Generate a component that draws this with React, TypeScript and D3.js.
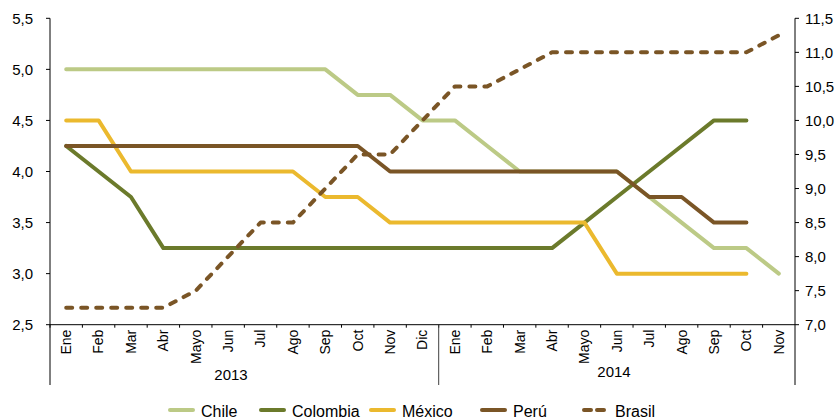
import React from "react";
import * as d3 from "d3";

const months2013 = ["Ene", "Feb", "Mar", "Abr", "Mayo", "Jun", "Jul", "Ago", "Sep", "Oct", "Nov", "Dic"];
const months2014 = ["Ene", "Feb", "Mar", "Abr", "Mayo", "Jun", "Jul", "Ago", "Sep", "Oct", "Nov"];
const years = ["2013", "2014"];

const chile = [5.0, 5.0, 5.0, 5.0, 5.0, 5.0, 5.0, 5.0, 5.0, 4.75, 4.75, 4.5, 4.5, 4.25, 4.0, 4.0, 4.0, 4.0, 3.75, 3.5, 3.25, 3.25, 3.0];
const colombia = [4.25, 4.0, 3.75, 3.25, 3.25, 3.25, 3.25, 3.25, 3.25, 3.25, 3.25, 3.25, 3.25, 3.25, 3.25, 3.25, 3.5, 3.75, 4.0, 4.25, 4.5, 4.5, null];
const mexico = [4.5, 4.5, 4.0, 4.0, 4.0, 4.0, 4.0, 4.0, 3.75, 3.75, 3.5, 3.5, 3.5, 3.5, 3.5, 3.5, 3.5, 3.0, 3.0, 3.0, 3.0, 3.0, null];
const peru = [4.25, 4.25, 4.25, 4.25, 4.25, 4.25, 4.25, 4.25, 4.25, 4.25, 4.0, 4.0, 4.0, 4.0, 4.0, 4.0, 4.0, 4.0, 3.75, 3.75, 3.5, 3.5, null];
const brasil = [7.25, 7.25, 7.25, 7.25, 7.5, 8.0, 8.5, 8.5, 9.0, 9.5, 9.5, 10.0, 10.5, 10.5, 10.75, 11.0, 11.0, 11.0, 11.0, 11.0, 11.0, 11.0, 11.25];

const leftTicks = [2.5, 3.0, 3.5, 4.0, 4.5, 5.0, 5.5];
const rightTicks = [7.0, 7.5, 8.0, 8.5, 9.0, 9.5, 10.0, 10.5, 11.0, 11.5];

const FONT = "'Liberation Sans', Arial, sans-serif";

type Series = { name: string; values: (number | null)[]; color: string; dashed: boolean; right: boolean };

const series: Series[] = [
  { name: "Chile", values: chile, color: "#BCCA86", dashed: false, right: false },
  { name: "Colombia", values: colombia, color: "#6B7A2B", dashed: false, right: false },
  { name: "México", values: mexico, color: "#EBB92E", dashed: false, right: false },
  { name: "Perú", values: peru, color: "#7A5526", dashed: false, right: false },
  { name: "Brasil", values: brasil, color: "#7A5526", dashed: true, right: true },
];

const legendX = [168, 259, 369, 480, 582];

export default function App() {
  const W = 835, H = 420;
  const left = 50, right = 795, top = 18.3, bottom = 324.7;
  const cats = [...months2013, ...months2014];
  const idx = cats.map((_, i) => i);
  const x = d3.scaleBand<number>().domain(idx).range([left, right]).padding(0);
  const bw = x.bandwidth();
  const cx = (i: number) => (x(i) as number) + bw / 2;
  const yL = d3.scaleLinear().domain([2.5, 5.5]).range([bottom, top]);
  const yR = d3.scaleLinear().domain([7, 11.5]).range([bottom, top]);
  const fmt = (v: number) => v.toFixed(1).replace(".", ",");

  const makeLine = (s: Series) =>
    d3
      .line<number | null>()
      .defined((d) => d !== null)
      .x((_, i) => cx(i))
      .y((d) => (s.right ? yR(d as number) : yL(d as number)))(s.values) || "";

  const axisBottomExt = 385;
  const divX = x(months2013.length) as number;

  return (
    <svg width={W} height={H} style={{ position: "absolute", left: 0, top: 0, background: "#fff" }} fontFamily={FONT}>
      {series.map((s) => (
        <path
          key={s.name}
          d={makeLine(s)}
          fill="none"
          stroke={s.color}
          strokeWidth={4}
          strokeLinecap="round"
          strokeLinejoin="round"
          strokeDasharray={s.dashed ? "6,9" : undefined}
        />
      ))}
      <line x1={left} x2={left} y1={top} y2={axisBottomExt} stroke="#000" strokeWidth={1} />
      {leftTicks.map((t) => (
        <g key={"l" + t}>
          <line x1={left - 4} x2={left} y1={yL(t)} y2={yL(t)} stroke="#000" />
          <text x={33} y={yL(t)} dy="0.35em" textAnchor="end" fontSize={15} fill="#000">
            {fmt(t)}
          </text>
        </g>
      ))}
      <line x1={right} x2={right} y1={top} y2={axisBottomExt} stroke="#000" strokeWidth={1} />
      {rightTicks.map((t) => (
        <g key={"r" + t}>
          <line x1={right} x2={right + 4} y1={yR(t)} y2={yR(t)} stroke="#000" />
          <text x={805} y={yR(t)} dy="0.35em" textAnchor="start" fontSize={15} fill="#000">
            {fmt(t)}
          </text>
        </g>
      ))}
      <line x1={left} x2={right} y1={bottom} y2={bottom} stroke="#000" />
      {idx.map((i) => (
        <line key={"t" + i} x1={x(i) as number} x2={x(i) as number} y1={bottom} y2={bottom + 3} stroke="#000" />
      ))}
      <line x1={divX} x2={divX} y1={bottom} y2={axisBottomExt} stroke="#404040" />
      {cats.map((c, i) => (
        <text
          key={"c" + i}
          transform={`translate(${cx(i)},${bottom + 5}) rotate(-90)`}
          dy="0.35em"
          textAnchor="end"
          fontSize={14}
          fill="#000"
        >
          {c}
        </text>
      ))}
      <text x={231} y={380} textAnchor="middle" fontSize={15} fill="#000">
        {years[0]}
      </text>
      <text x={614} y={377} textAnchor="middle" fontSize={15} fill="#000">
        {years[1]}
      </text>
      {series.map((s, i) => (
        <g key={"lg" + s.name}>
          <line
            x1={legendX[i] + 2}
            x2={legendX[i] + 25}
            y1={410}
            y2={410}
            stroke={s.color}
            strokeWidth={4}
            strokeLinecap="round"
            strokeDasharray={s.dashed ? "7,6" : undefined}
          />
          <text x={legendX[i] + 33} y={417} fontSize={16} fill="#000">
            {s.name}
          </text>
        </g>
      ))}
    </svg>
  );
}
